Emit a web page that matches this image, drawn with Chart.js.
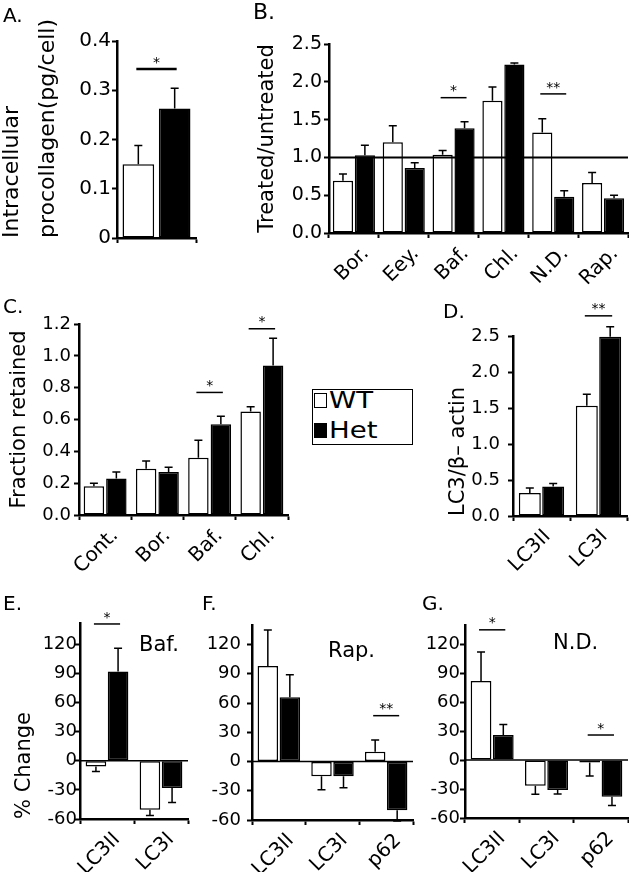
<!DOCTYPE html>
<html>
<head>
<meta charset="utf-8">
<script src="https://cdn.jsdelivr.net/npm/chart.js@4.4.1/dist/chart.umd.min.js"></script>
<style>
  body { margin: 0; background: #fff; }
  #fig { position: relative; width: 629px; height: 872px; overflow: hidden; font-family: "DejaVu Sans", sans-serif; color: #000; }
  #fig canvas { position: absolute; }
  .txt { position: absolute; line-height: 1; white-space: nowrap; }
  .panel { font-size: 20px; }
  .note { font-size: 21px; }
  #legend { position: absolute; border: 1.5px solid #000; box-sizing: border-box; padding: 0 0 0 1px; }
  #legend .row { display: flex; align-items: center; height: 30px; font-size: 23px; }
  #legend .row:first-child { margin-top: -5px; }
  #legend .sw { width: 13px; height: 15px; border: 1.5px solid #000; box-sizing: border-box; margin-right: 2px; }
  #legend .name { display: inline-block; transform: scaleX(1.2); transform-origin: left center; }
</style>
</head>
<body>
<div id="fig">
  <canvas id="chartA"></canvas>
  <canvas id="chartB"></canvas>
  <canvas id="chartC"></canvas>
  <canvas id="chartD"></canvas>
  <canvas id="chartE"></canvas>
  <canvas id="chartF"></canvas>
  <canvas id="chartG"></canvas>

  <div class="txt panel" style="left:3px;top:5px">A.</div>
  <div class="txt panel" style="left:253px;top:1px;font-size:22px">B.</div>
  <div class="txt panel" style="left:3px;top:296px">C.</div>
  <div class="txt panel" style="left:443px;top:301px">D.</div>
  <div class="txt panel" style="left:3px;top:593px">E.</div>
  <div class="txt panel" style="left:202px;top:593px">F.</div>
  <div class="txt panel" style="left:422px;top:593px">G.</div>

  <div class="txt note" style="left:139px;top:634px">Baf.</div>
  <div class="txt note" style="left:328px;top:640px">Rap.</div>
  <div class="txt note" style="left:553px;top:632px">N.D.</div>

  <div id="legend" style="left:312px;top:389px;width:101px;height:56px"></div>
</div>

<script>
const FONT = 'DejaVu Sans';
const seriesNames = ['WT', 'Het'];
const seriesFill = ['#ffffff', '#000000'];

// A. intracellular procollagen
const aLabels = [''];
const aWT = [0.15];
const aWTErr = [0.038];
const aHet = [0.263];
const aHetErr = [0.041];
const aTicks = ['0', '0.1', '0.2', '0.3', '0.4'];
const aSig = [[0, 0.343, '*']];

// B. treated / untreated
const bLabels = ['Bor.', 'Eey.', 'Baf.', 'Chl.', 'N.D.', 'Rap.'];
const bWT = [0.69, 1.20, 1.035, 1.75, 1.33, 0.66];
const bWTErr = [0.09, 0.22, 0.055, 0.18, 0.18, 0.14];
const bHet = [1.03, 0.86, 1.385, 2.23, 0.48, 0.46];
const bHetErr = [0.13, 0.07, 0.085, 0.02, 0.08, 0.04];
const bTicks = ['0.0', '0.5', '1.0', '1.5', '2.0', '2.5'];
const bSig = [[2, 1.79, '*'], [4, 1.84, '**']];

// C. fraction retained
const cLabels = ['Cont.', 'Bor.', 'Baf.', 'Chl.'];
const cWT = [0.18, 0.29, 0.36, 0.65];
const cWTErr = [0.02, 0.05, 0.11, 0.03];
const cHet = [0.23, 0.27, 0.57, 0.94];
const cHetErr = [0.04, 0.03, 0.05, 0.17];
const cTicks = ['0.0', '0.2', '0.4', '0.6', '0.8', '1.0', '1.2'];
const cSig = [[2, 0.77, '*'], [3, 1.17, '*']];

// D. LC3 / beta-actin
const dLabels = ['LC3II', 'LC3I'];
const dWT = [0.32, 1.53];
const dWTErr = [0.07, 0.16];
const dHet = [0.41, 2.49];
const dHetErr = [0.04, 0.14];
const dTicks = ['0.0', '0.5', '1.0', '1.5', '2.0', '2.5'];
const dSig = [[1, 2.78, '**']];

// E-G. % change
const changeTicks = ['-60', '-30', '0', '30', '60', '90', '120'];

const eLabels = ['LC3II', 'LC3I'];
const eWT = [-6, -50.5];
const eWTErr = [5, 6];
const eHet = [92, -28];
const eHetErr = [24, 15];
const eSig = [[0, 141, '*']];

const fLabels = ['LC3II', 'LC3I', 'p62'];
const fWT = [98, -15, 10];
const fWTErr = [37, 14, 12];
const fHet = [66, -15, -50];
const fHetErr = [23, 12, 11];
const fSig = [[2, 47, '**']];

const gLabels = ['LC3II', 'LC3I', 'p62'];
const gWT = [82, -26.5, -2.5];
const gWTErr = [30, 9, 14];
const gHet = [26, -31, -38];
const gHetErr = [11, 4, 9];
const gSig = [[0, 135, '*'], [2, 26, '*']];

// error bars, significance bars and reference line, drawn on top of the bars
function makeExtras(p) {
    return {
        id: 'extras',
        afterDatasetsDraw(chart) {
            const ctx = chart.ctx;
            const area = chart.chartArea;
            const yAxis = chart.scales.y;
            ctx.save();
            ctx.strokeStyle = '#000';
            ctx.fillStyle = '#000';

            if (p.refLine !== undefined) {
                const py = yAxis.getPixelForValue(p.refLine);
                ctx.lineWidth = p.refWidth;
                ctx.beginPath();
                ctx.moveTo(area.left, py);
                ctx.lineTo(area.right, py);
                ctx.stroke();
            }

            ctx.lineWidth = 1.5;
            chart.data.datasets.forEach((ds, i) => {
                chart.getDatasetMeta(i).data.forEach((bar, j) => {
                    const v = ds.data[j];
                    const tip = v < 0 ? v - ds.errors[j] : v + ds.errors[j];
                    const py = yAxis.getPixelForValue(tip);
                    ctx.beginPath();
                    ctx.moveTo(bar.x, bar.y);
                    ctx.lineTo(bar.x, py);
                    ctx.moveTo(bar.x - 4, py);
                    ctx.lineTo(bar.x + 4, py);
                    ctx.stroke();
                });
            });

            p.sig.forEach(([k, val, mark]) => {
                const x0 = chart.getDatasetMeta(0).data[k].x - 2;
                const x1 = chart.getDatasetMeta(1).data[k].x + 2;
                const py = yAxis.getPixelForValue(val);
                ctx.lineWidth = p.sigWidth || 1.5;
                ctx.beginPath();
                ctx.moveTo(x0, py);
                ctx.lineTo(x1, py);
                ctx.stroke();
                ctx.font = '14px "' + FONT + '"';
                ctx.textAlign = 'center';
                ctx.textBaseline = 'bottom';
                ctx.fillText(mark, (x0 + x1) / 2, py + 1);
            });
            ctx.restore();
        }
    };
}

function makeChart(p) {
    const cv = document.getElementById(p.id);
    cv.width = p.box[2];
    cv.height = p.box[3];
    cv.style.left = p.box[0] + 'px';
    cv.style.top = p.box[1] + 'px';

    const series = [[p.wt, p.wtErr], [p.het, p.hetErr]];
    return new Chart(cv, {
        type: 'bar',
        data: {
            labels: p.labels,
            datasets: series.map(([vals, errs], i) => ({
                label: seriesNames[i],
                data: vals,
                errors: errs,
                backgroundColor: seriesFill[i],
                borderColor: '#000',
                borderWidth: 1.5,
                borderSkipped: false,
                categoryPercentage: p.cat,
                barPercentage: p.bar
            }))
        },
        options: {
            responsive: false,
            animation: false,
            events: [],
            layout: {
                padding: {
                    left: 0,
                    bottom: 0,
                    top: p.area[1] - p.box[1],
                    right: p.box[0] + p.box[2] - p.area[2]
                }
            },
            plugins: {
                legend: { display: false },
                tooltip: { enabled: false }
            },
            scales: {
                x: {
                    offset: true,
                    afterFit: s => {
                        s.height = p.box[1] + p.box[3] - p.area[3];
                        s.paddingLeft = 0;
                        s.paddingRight = 0;
                    },
                    ticks: {
                        display: p.labels.length > 1,
                        autoSkip: false,
                        minRotation: 45,
                        maxRotation: 45,
                        labelOffset: p.labelOffset || 8,
                        padding: 4,
                        color: '#000',
                        font: { family: FONT, size: p.xSize || 20 }
                    },
                    grid: { display: true, drawOnChartArea: false, offset: true, tickLength: 5, tickWidth: 2, tickColor: '#000' },
                    border: { display: true, color: '#000', width: 2.5 }
                },
                y: {
                    min: p.min,
                    max: p.max,
                    afterBuildTicks: s => { s.ticks = p.ticks.map(t => ({ value: Number(t) })); },
                    afterFit: s => {
                        s.width = p.area[0] - p.box[0];
                        s.paddingTop = 0;
                        s.paddingBottom = 0;
                    },
                    ticks: {
                        autoSkip: false,
                        callback: (v, i) => p.ticks[i],
                        padding: p.tickPad,
                        color: '#000',
                        font: { family: FONT, size: p.tickSize }
                    },
                    grid: { display: true, drawOnChartArea: false, tickLength: 5, tickWidth: 2, tickColor: '#000' },
                    border: { display: true, color: '#000', width: 2.5 },
                    title: {
                        display: !!p.title,
                        text: p.title,
                        color: '#000',
                        align: p.titleAlign || 'center',
                        padding: { top: p.titlePad || 0, bottom: 0 },
                        font: { family: FONT, size: p.titleSize || 21, lineHeight: p.titleLH || 1.2 }
                    }
                }
            }
        },
        plugins: [makeExtras(p)]
    });
}

makeChart({
    id: 'chartA', box: [0, 0, 205, 250], area: [117, 41, 196, 238],
    labels: aLabels, wt: aWT, wtErr: aWTErr, het: aHet, hetErr: aHetErr,
    min: 0, max: 0.4, ticks: aTicks, tickSize: 20, tickPad: 1,
    title: ['Intracellular', 'procollagen(pg/cell)'], titleAlign: 'start', titleSize: 22, titleLH: 1.6, titlePad: -5,
    sig: aSig, sigWidth: 2.5, cat: 0.92, bar: 0.87
});

makeChart({
    id: 'chartB', box: [240, 0, 389, 290], area: [329, 44, 628, 233],
    labels: bLabels, wt: bWT, wtErr: bWTErr, het: bHet, hetErr: bHetErr,
    min: 0, max: 2.5, ticks: bTicks, tickSize: 19, tickPad: 2,
    title: 'Treated/untreated', titlePad: 15,
    refLine: 1, refWidth: 2,
    sig: bSig, cat: 0.88, bar: 0.92, labelOffset: 12
});

makeChart({
    id: 'chartC', box: [0, 295, 300, 295], area: [79, 324, 288, 515],
    labels: cLabels, wt: cWT, wtErr: cWTErr, het: cHet, hetErr: cHetErr,
    min: 0, max: 1.2, ticks: cTicks, tickSize: 18, tickPad: 3,
    title: 'Fraction retained', titlePad: 7,
    sig: cSig, cat: 0.86, bar: 0.91, labelOffset: 10
});

makeChart({
    id: 'chartD', box: [430, 295, 199, 295], area: [513, 336, 627, 516],
    labels: dLabels, wt: dWT, wtErr: dWTErr, het: dHet, hetErr: dHetErr,
    min: 0, max: 2.5, ticks: dTicks, tickSize: 18, tickPad: 8,
    title: 'LC3/β\u2013 actin', titleAlign: 'start', titlePad: 16,
    sig: dSig, cat: 0.82, bar: 0.94, labelOffset: 6
});

makeChart({
    id: 'chartE', box: [0, 600, 200, 272], area: [80, 623, 188, 819],
    labels: eLabels, wt: eWT, wtErr: eWTErr, het: eHet, hetErr: eHetErr,
    min: -60, max: 142, ticks: changeTicks, tickSize: 18, tickPad: -2,
    title: '% Change', titleAlign: 'start', titlePad: 12,
    refLine: 0, refWidth: 1.5,
    sig: eSig, cat: 0.82, bar: 0.93, labelOffset: 10
});

makeChart({
    id: 'chartF', box: [185, 600, 230, 272], area: [252, 625, 413, 820],
    labels: fLabels, wt: fWT, wtErr: fWTErr, het: fHet, hetErr: fHetErr,
    min: -60, max: 140, ticks: changeTicks, tickSize: 18, tickPad: 6,
    refLine: 0, refWidth: 1.5,
    sig: fSig, cat: 0.82, bar: 0.93, labelOffset: 12
});

makeChart({
    id: 'chartG', box: [400, 600, 229, 272], area: [465, 625, 628, 818],
    labels: gLabels, wt: gWT, wtErr: gWTErr, het: gHet, hetErr: gHetErr,
    min: -60, max: 140, ticks: changeTicks, tickSize: 18, tickPad: 0,
    refLine: 0, refWidth: 1.5,
    sig: gSig, cat: 0.82, bar: 0.93, labelOffset: 10
});

// legend box built from the series names
const legend = document.getElementById('legend');
seriesNames.forEach((name, i) => {
    const row = document.createElement('div');
    row.className = 'row';
    const sw = document.createElement('span');
    sw.className = 'sw';
    sw.style.background = seriesFill[i];
    const label = document.createElement('span');
    label.className = 'name';
    label.textContent = name;
    row.appendChild(sw);
    row.appendChild(label);
    legend.appendChild(row);
});
</script>
</body>
</html>
